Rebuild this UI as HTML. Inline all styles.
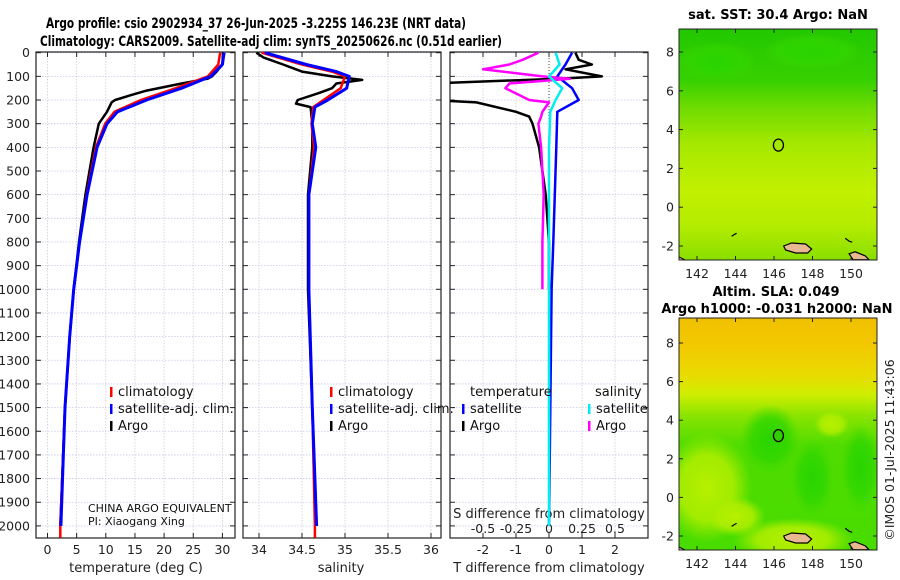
<!DOCTYPE html>
<html><head><meta charset="utf-8"><style>
html,body{margin:0;padding:0;background:#fff;}
svg{display:block;font-family:"DejaVu Sans","Liberation Sans",sans-serif;}
</style></head><body>
<svg id="fig" width="900" height="580" viewBox="0 0 900 580" xmlns="http://www.w3.org/2000/svg">
<defs>
<linearGradient id="sstg" x1="0" y1="0" x2="0" y2="1">
<stop offset="0" stop-color="#22c800"/><stop offset="0.22" stop-color="#36d000"/><stop offset="0.35" stop-color="#72dc00"/><stop offset="0.5" stop-color="#a6e800"/><stop offset="0.7" stop-color="#c2f000"/><stop offset="0.85" stop-color="#b4ec00"/><stop offset="1" stop-color="#8ade00"/>
</linearGradient>
<linearGradient id="slag" x1="0" y1="0" x2="0" y2="1">
<stop offset="0" stop-color="#f0c000"/><stop offset="0.12" stop-color="#f2c800"/><stop offset="0.25" stop-color="#e8dc00"/><stop offset="0.33" stop-color="#cfee00"/><stop offset="0.42" stop-color="#8ae400"/><stop offset="0.55" stop-color="#50dc00"/><stop offset="1" stop-color="#48dc00"/>
</linearGradient>
<radialGradient id="gblob"><stop offset="0" stop-color="#28d400"/><stop offset="0.6" stop-color="#30d600" stop-opacity="0.8"/><stop offset="1" stop-color="#40d800" stop-opacity="0"/></radialGradient>
<radialGradient id="lblob"><stop offset="0" stop-color="#b8f000"/><stop offset="0.6" stop-color="#b0ee00" stop-opacity="0.85"/><stop offset="1" stop-color="#a0ec00" stop-opacity="0"/></radialGradient>
<clipPath id="c1"><rect x="679" y="29" width="198" height="231"/></clipPath>
<clipPath id="c2"><rect x="679" y="318" width="198" height="232"/></clipPath>
<clipPath id="p3"><rect x="450" y="52" width="198" height="486"/></clipPath>
</defs>
<g id="root"></g>
</svg>
<script>
// ---------- data ----------
const depthT = [0,50,80,100,110,130,160,180,200,210,250,300,400,600,800,1000,1200,1500,2000];
const argoT  = [30.1,30.0,29.0,28.2,27.5,23.0,17.0,14.2,11.6,11.0,10.2,8.8,7.9,6.5,5.4,4.5,3.8,3.0,2.2];
const depthC = [0,50,100,150,200,250,300,400,600,800,1000,1200,1500,2000,2050];
const climT  = [29.6,29.3,27.5,22.0,16.0,11.5,9.9,8.3,6.7,5.5,4.5,3.8,3.0,2.2,2.2];
const satT   = [30.3,30.0,28.0,23.0,17.0,12.0,10.2,8.5,6.8,5.5,4.5,3.8,3.0,2.3,null];
const depthS = [0,20,50,80,100,115,130,150,170,200,215,230,300,400,600,1000,1500,2000];
const argoS  = [33.97,34.05,34.28,34.5,34.85,35.2,34.9,34.85,34.7,34.45,34.43,34.6,34.62,34.62,34.57,34.57,34.62,34.67];
const depthCS= [0,50,80,100,150,200,230,300,400,600,1000,1500,2000,2050];
const climS  = [34.03,34.5,34.85,35.0,34.95,34.75,34.63,34.61,34.64,34.58,34.58,34.62,34.65,34.65];
const satS   = [34.07,34.55,34.9,35.05,35.02,34.8,34.65,34.62,34.66,34.58,34.58,34.62,34.67,null];
const depthD = [0,30,50,70,100,110,130,150,200,210,250,270,300,400,500,600,800,1000];
const argoTd = [0.8,0.9,1.3,0.5,1.6,0.3,-3.6,-3.6,-3.6,-2.2,-1.0,-0.6,-0.5,-0.3,-0.2,-0.1,0.0,0.0];
const argoSd = [-0.08,-0.2,-0.3,-0.5,-0.05,0.16,-0.3,-0.33,-0.15,0.0,-0.05,-0.06,-0.08,-0.06,-0.05,-0.04,-0.05,-0.05];
const depthSat=[0,50,100,150,200,250,400,800,1000,2000];
const satTd  = [0.7,0.5,0.25,0.7,0.9,0.25,0.22,0.13,0.08,0.0];
const satSd  = [0.05,0.08,0.0,0.1,0.05,0.01,0.0,0.0,0.0,0.0];
const depthTicks=[0,100,200,300,400,500,600,700,800,900,1000,1100,1200,1300,1400,1500,1600,1700,1800,1900,2000];
const tTicks=[0,5,10,15,20,25,30];
const sTicks=[34,34.5,35,35.5,36];
const tdTicks=[-2,-1,0,1,2];
const sdTicks=[-0.5,-0.25,0,0.25,0.5];
const latTicks=[8,6,4,2,0,-2];
const lonTicks=[142,144,146,148,150];
const argoLon=146.23, argoLat=3.2;

// ---------- helpers ----------
const NS="http://www.w3.org/2000/svg";
const root=document.getElementById('root');
function mk(tag,attrs,parent){const e=document.createElementNS(NS,tag);for(const k in attrs)e.setAttribute(k,attrs[k]);(parent||root).appendChild(e);return e;}
function txt(x,y,s,attrs){const e=mk('text',Object.assign({x:x,y:y},attrs||{}));e.textContent=s;return e;}
const Y=d=>52.7+d*0.2366;
const X1=v=>47.5+v*5.83;
const X2=v=>302+(v-34.5)*86;
const XT=v=>549+v*33;
const XS=v=>549+v*132;
function line(xs,ds,fx,color,w,clip,name){
  let p='';let started=false;
  for(let i=0;i<xs.length;i++){if(xs[i]===null)continue;p+=(started?'L':'M')+fx(xs[i]).toFixed(1)+','+Y(ds[i]).toFixed(1);started=true;}
  const e=mk('path',{d:p,fill:'none',stroke:color,'stroke-width':w,'stroke-linejoin':'round'});
  if(clip)e.setAttribute('clip-path','url(#'+clip+')');
  
  
  return e;
}
function panel(x0,x1,xticks,fx,name){
  const g=mk('g',{});
  
  
  depthTicks.forEach(d=>{mk('line',{x1:x0,x2:x1,y1:Y(d),y2:Y(d),stroke:'#c8c8e8','stroke-width':0.8,'stroke-dasharray':'1.5,1.5'},g);
    mk('line',{x1:x0,x2:x0+5,y1:Y(d),y2:Y(d),stroke:'#222','stroke-width':1},g);
    mk('line',{x1:x1-5,x2:x1,y1:Y(d),y2:Y(d),stroke:'#222','stroke-width':1},g);});
  xticks.forEach(v=>{const x=fx(v);mk('line',{x1:x,x2:x,y1:52,y2:538,stroke:'#d8c8d8','stroke-width':0.8,'stroke-dasharray':'1.5,1.5'},g);
    mk('line',{x1:x,x2:x,y1:538,y2:533,stroke:'#222','stroke-width':1},g);
    mk('line',{x1:x,x2:x,y1:52,y2:57,stroke:'#222','stroke-width':1},g);});
  mk('rect',{x:x0,y:52,width:x1-x0,height:486,fill:'none',stroke:'#222','stroke-width':1.2},g);
  return g;
}
// titles
let t=txt(256,28,'Argo profile: csio 2902934_37 26-Jun-2025 -3.225S 146.23E (NRT data)',{'font-size':14,'font-weight':'bold','text-anchor':'middle',textLength:420,lengthAdjust:'spacingAndGlyphs'});

t=txt(271,46,'Climatology: CARS2009. Satellite-adj clim: synTS_20250626.nc (0.51d earlier)',{'font-size':14,'font-weight':'bold','text-anchor':'middle',textLength:462,lengthAdjust:'spacingAndGlyphs'});


// panels
panel(36,235,tTicks,X1,'temperature-panel');
panel(243,441,sTicks,X2,'salinity-panel');
panel(450,648,tdTicks,XT,'difference-panel');
depthTicks.forEach(d=>{const e=txt(30,Y(d)+4.5,String(d),{'font-size':12.5,'text-anchor':'end',fill:'#222'});});
tTicks.forEach(v=>{const e=txt(X1(v),554,String(v),{'font-size':12.5,'text-anchor':'middle',fill:'#222'});});
sTicks.forEach(v=>{const e=txt(X2(v),554,String(v),{'font-size':12.5,'text-anchor':'middle',fill:'#222'});});
tdTicks.forEach(v=>{const e=txt(XT(v),554,String(v),{'font-size':12.5,'text-anchor':'middle',fill:'#222'});});
sdTicks.forEach(v=>{const e=txt(XS(v),533,String(v),{'font-size':12.5,'text-anchor':'middle',fill:'#222'});});
t=txt(136,572,'temperature (deg C)',{'font-size':13,'text-anchor':'middle',fill:'#222'});
t=txt(341,572,'salinity',{'font-size':13,'text-anchor':'middle',fill:'#222'});
t=txt(549,572,'T difference from climatology',{'font-size':13,'text-anchor':'middle',fill:'#222'});
t=txt(549,518,'S difference from climatology',{'font-size':13,'text-anchor':'middle',fill:'#222'});

// series
line(argoT,depthT,X1,'#000000',2.5,null,'temp-argo-line');
line(climT,depthC,X1,'#ff0000',2.5,null,'temp-climatology-line');
line(satT,depthC,X1,'#0000ff',3,null,'temp-satellite-line');
line(argoS,depthS,X2,'#000000',2.5,null,'sal-argo-line');
line(climS,depthCS,X2,'#ff0000',2.5,null,'sal-climatology-line');
line(satS,depthCS,X2,'#0000ff',3,null,'sal-satellite-line');
mk('line',{x1:549,x2:549,y1:52,y2:260,stroke:'#444','stroke-width':1,'stroke-dasharray':'1,2'});
line(argoTd,depthD,XT,'#000000',2.5,'p3','tdiff-argo-line');
line(satTd,depthSat,XT,'#0000ff',2.5,'p3','tdiff-satellite-line');
line(argoSd,depthD,XS,'#ff00ff',2.5,'p3','sdiff-argo-line');
line(satSd,depthSat,XS,'#00eeee',2.5,'p3','sdiff-satellite-line');

// legends
function leg(x,y,color,label,name){const g=mk('g',{});
  mk('rect',{x:x,y:y-9,width:2.5,height:10,fill:color},g);const e=txt(x+8,y,label,{'font-size':13,fill:'#111'});g.appendChild(e);}
leg(110,396,'#ff0000','climatology','legend-climatology');
leg(110,413,'#0000ff','satellite-adj. clim.','legend-satellite-adj');
leg(110,430,'#000000','Argo','legend-argo');
leg(330,396,'#ff0000','climatology','legend-climatology-sal');
leg(330,413,'#0000ff','satellite-adj. clim.','legend-satellite-adj-sal');
leg(330,430,'#000000','Argo','legend-argo-sal');
t=txt(470,396,'temperature',{'font-size':13,fill:'#111'});
t=txt(595,396,'salinity',{'font-size':13,fill:'#111'});
leg(462,413,'#0000ff','satellite','legend-tdiff-satellite');
leg(462,430,'#000000','Argo','legend-tdiff-argo');
leg(588,413,'#00eeee','satellite','legend-sdiff-satellite');
leg(588,430,'#ff00ff','Argo','legend-sdiff-argo');
t=txt(88,512,'CHINA ARGO EQUIVALENT',{'font-size':11,fill:'#111'});
t=txt(88,525,'PI: Xiaogang Xing',{'font-size':11,fill:'#111'});

// maps
function map(y0,h,lat8y,latm2y,fill,clip,name,blobs,lights){
  const g=mk('g',{});
  const LX=v=>697+(v-142)*19.25;const LY=v=>lat8y+(8-v)*(latm2y-lat8y)/10;
  const inner=mk('g',{'clip-path':'url(#'+clip+')'},g);
  mk('rect',{x:679,y:y0,width:198,height:h,fill:fill},inner);
  lights.forEach(b=>mk('ellipse',{cx:LX(b[0]),cy:LY(b[1]),rx:b[2],ry:b[3],fill:'url(#lblob)'},inner));
  blobs.forEach(b=>mk('ellipse',{cx:LX(b[0]),cy:LY(b[1]),rx:b[2],ry:b[3],fill:'url(#gblob)'},inner));
  mk('path',{d:`M${LX(146.5)},${LY(-2.0)} l8,-3 l14,1 l6,5 l-4,4 l-12,0 l-10,-3z`,fill:'#e8b890',stroke:'#000','stroke-width':1.2},inner);
  mk('path',{d:`M${LX(149.9)},${LY(-2.4)} l6,-2 l10,4 l4,4 l-16,0z`,fill:'#e8b890',stroke:'#000','stroke-width':1.2},inner);
  mk('path',{d:`M${LX(149.7)},${LY(-1.6)} l4,3 l3,1`,fill:'none',stroke:'#000','stroke-width':1.2},inner);
  mk('path',{d:`M${LX(143.8)},${LY(-1.5)} l3,-2 l2,-1`,fill:'none',stroke:'#000','stroke-width':1.2},inner);
  mk('path',{d:`M679,${y0+h-3} l6,3 l-6,0z`,fill:'#e8b890',stroke:'#000'},inner);
  mk('ellipse',{cx:LX(argoLon),cy:LY(argoLat),rx:5,ry:6,fill:name==='sla-map'?'#30d000':'none',stroke:'#000','stroke-width':1.3},g);
  mk('rect',{x:679,y:y0,width:198,height:h,fill:'none',stroke:'#222','stroke-width':1},g);
  latTicks.forEach(v=>{mk('line',{x1:679,x2:683,y1:LY(v),y2:LY(v),stroke:'#222'},g);mk('line',{x1:873,x2:877,y1:LY(v),y2:LY(v),stroke:'#222'},g);
    const e=txt(674,LY(v)+4.5,String(v),{'font-size':12.5,'text-anchor':'end',fill:'#222'});g.appendChild(e);});
  lonTicks.forEach(v=>{mk('line',{x1:LX(v),x2:LX(v),y1:y0+h,y2:y0+h-4,stroke:'#222'},g);mk('line',{x1:LX(v),x2:LX(v),y1:y0,y2:y0+4,stroke:'#222'},g);
    const e=txt(LX(v),y0+h+18,String(v),{'font-size':12.5,'text-anchor':'middle',fill:'#222'});g.appendChild(e);});
}
map(29,231,52,246,'url(#sstg)','c1','sst-map',[[143,7.5,40,20],[148,8,50,18]],[]);
map(318,232,343,536,'url(#slag)','c2','sla-map',[[145.8,3,30,35],[148,1,22,40],[150.5,1.5,20,45]],[[142.5,0.5,45,55],[147,-2.2,60,22],[149,3.8,18,14],[144,-1,30,20]]);
t=txt(778,19,'sat. SST: 30.4 Argo: NaN',{'font-size':13,'font-weight':'bold','text-anchor':'middle'});
t=txt(776,296,'Altim. SLA: 0.049',{'font-size':13,'font-weight':'bold','text-anchor':'middle'});
t=txt(777,313,'Argo h1000: -0.031 h2000: NaN',{'font-size':13,'font-weight':'bold','text-anchor':'middle'});
t=txt(0,0,'©IMOS 01-Jul-2025 11:43:06',{'font-size':12.5,'text-anchor':'middle',fill:'#222',transform:'translate(894,450) rotate(-90)'});
</script>
</body></html>
